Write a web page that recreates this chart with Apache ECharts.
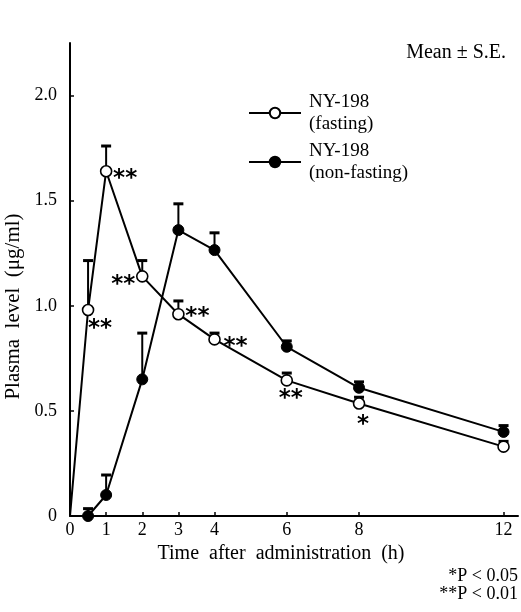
<!DOCTYPE html>
<html>
<head>
<meta charset="utf-8">
<script src="https://cdn.jsdelivr.net/npm/echarts@6/dist/echarts.min.js"></script>
<style>html,body{margin:0;padding:0;background:#fff}#c{width:521px;height:612px}</style>
</head>
<body>
<div id="c"></div>
<script>
// ---- data ----
const timeH = [0, 0.5, 1, 2, 3, 4, 6, 8, 12];
const fastingMean = [0, 0.98, 1.64, 1.14, 0.96, 0.84, 0.645, 0.535, 0.33];
const fastingSE = [0, 0.235, 0.12, 0.075, 0.063, 0.03, 0.035, 0.03, 0.025];
const nonFastingMean = [0, 0.0, 0.10, 0.65, 1.36, 1.265, 0.805, 0.61, 0.40];
const nonFastingSE = [0, 0.035, 0.095, 0.22, 0.125, 0.082, 0.028, 0.028, 0.03];
const fastingSig = ['', '**', '**', '**', '**', '**', '**', '*', ''];
const xTickValues = [0, 1, 2, 3, 4, 6, 8, 12];
const yTickValues = [0, 0.5, 1, 1.5, 2];
const yTickLabels = ['0', '0.5', '1.0', '1.5', '2.0'];
const seriesNames = ['NY-198 (fasting)', 'NY-198 (non-fasting)'];
const legendLabels = ['NY-198\n(fasting)', 'NY-198\n(non-fasting)'];
const titleText = 'Mean \u00b1 S.E.';
const xName = 'Time  after  administration  (h)';
const yName = 'Plasma  level  (\u03bcg/ml)';
const footnotes = ['*P < 0.05', '**P < 0.01'];

// ---- styling helpers (placement of significance marks) ----
const sigOffsets = [null, [12, 19], [19, 8], [-19, 9], [19, 3], [21, 8], [4, 19], [4, 22], null];

const serif = '"Liberation Serif", "DejaVu Serif", serif';

function pairs(xs, ys) {
  return xs.map((x, i) => (x === 0 ? { value: [x, ys[i]], symbol: 'none' } : { value: [x, ys[i]] }));
}

function errSeries(means, ses) {
  return {
    type: 'custom',
    z: 1,
    silent: true,
    data: timeH.map((t, i) => [t, means[i], ses[i]]),
    renderItem: function (params, api) {
      const x = api.value(0), m = api.value(1), e = api.value(2);
      if (!e) return null;
      const p0 = api.coord([x, m]);
      const p1 = api.coord([x, m + e]);
      const hw = 5;
      return {
        type: 'group',
        children: [
          { type: 'line', shape: { x1: p0[0], y1: p0[1], x2: p1[0], y2: p1[1] }, style: { stroke: '#000', lineWidth: 2 } },
          { type: 'line', shape: { x1: p1[0] - hw, y1: p1[1], x2: p1[0] + hw, y2: p1[1] }, style: { stroke: '#000', lineWidth: 3 } }
        ]
      };
    }
  };
}

const fastingData = pairs(timeH, fastingMean).map((item, i) => {
  if (fastingSig[i]) {
    item.label = {
      show: true,
      formatter: fastingSig[i],
      position: 'inside',
      offset: sigOffsets[i],
      align: 'center',
      verticalAlign: 'middle',
      fontFamily: '"DejaVu Sans", sans-serif',
      fontWeight: 'bold',
      fontSize: 23,
      color: '#000'
    };
  }
  return item;
});

const chart = echarts.init(document.getElementById('c'), null, { renderer: 'canvas' });
const legendBase = {
  orient: 'vertical',
  left: 248,
  padding: 0,
  itemWidth: 52,
  itemHeight: 13,
  formatter: n => legendLabels[seriesNames.indexOf(n)],
  textStyle: { fontFamily: serif, fontSize: 19, lineHeight: 22, color: '#000', padding: [22, 0, 0, 3] }
};
chart.setOption({
  animation: false,
  backgroundColor: '#fff',
  title: {
    text: titleText,
    right: 10, top: 38,
    textStyle: { fontFamily: serif, fontSize: 20, fontWeight: 'normal', color: '#000' }
  },
  legend: [
    Object.assign({}, legendBase, { data: [seriesNames[0]], top: 80 }),
    Object.assign({}, legendBase, { data: [seriesNames[1]], top: 129 })
  ],
  grid: { left: 70, right: 3, top: 43, bottom: 96, outerBoundsMode: 'none', containLabel: false },
  xAxis: {
    type: 'value', min: 0, max: 12.4,
    name: xName, nameLocation: 'middle', nameGap: 19,
    nameTextStyle: { fontFamily: serif, fontSize: 20, color: '#000', padding: [0, 26, 0, 0] },
    axisLine: { lineStyle: { color: '#000', width: 2 } },
    axisTick: { inside: true, length: 4, lineStyle: { color: '#000', width: 1.5 }, customValues: xTickValues },
    axisLabel: { customValues: xTickValues, fontFamily: serif, fontSize: 18, color: '#000', margin: 5 },
    splitLine: { show: false }
  },
  yAxis: {
    type: 'value', min: 0, max: 2.25,
    name: yName, nameLocation: 'middle', nameGap: 44, nameRotate: 90,
    nameTextStyle: { fontFamily: serif, fontSize: 21, color: '#000', padding: [0, 54, 0, 0] },
    axisLine: { show: true, lineStyle: { color: '#000', width: 2 } },
    axisTick: { show: true, inside: true, length: 4, lineStyle: { color: '#000', width: 1.5 }, customValues: yTickValues },
    axisLabel: {
      customValues: yTickValues, fontFamily: serif, fontSize: 18, color: '#000', margin: 13,
      formatter: v => yTickLabels[yTickValues.indexOf(v)]
    },
    splitLine: { show: false }
  },
  graphic: footnotes.map((t, i) => ({
    type: 'text', right: 3, top: 567 + i * 18,
    style: { text: t, font: '18px ' + serif, fill: '#000', textAlign: 'right' }
  })),
  series: [
    errSeries(fastingMean, fastingSE),
    errSeries(nonFastingMean, nonFastingSE),
    {
      name: seriesNames[1], type: 'line', z: 3,
      data: pairs(timeH, nonFastingMean),
      symbol: 'circle', symbolSize: 11, showAllSymbol: true,
      lineStyle: { color: '#000', width: 2 },
      itemStyle: { color: '#000', borderColor: '#000', borderWidth: 1 }
    },
    {
      name: seriesNames[0], type: 'line', z: 4,
      data: fastingData,
      symbol: 'circle', symbolSize: 11, showAllSymbol: true,
      lineStyle: { color: '#000', width: 2 },
      itemStyle: { color: '#fff', borderColor: '#000', borderWidth: 1.6 }
    }
  ]
});
</script>
</body>
</html>
